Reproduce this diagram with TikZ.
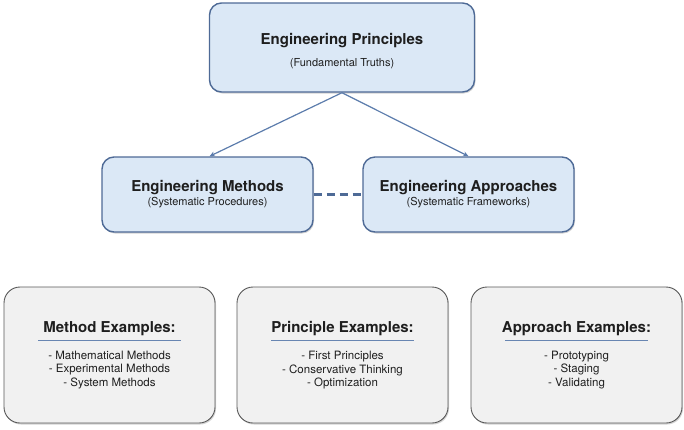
\documentclass[tikz,border=0pt]{standalone}
\usepackage{fontspec}
\setmainfont{TeX Gyre Heros}
\usetikzlibrary{arrows.meta,shadows}
\definecolor{boxblue}{RGB}{219,232,246}
\definecolor{edgeblue}{RGB}{78,106,150}
\definecolor{linkblue}{RGB}{92,124,172}
\definecolor{boxgray}{RGB}{241,241,241}
\definecolor{edgegray}{RGB}{88,88,88}
\definecolor{ruleblue}{RGB}{104,134,178}
\definecolor{txt}{RGB}{30,30,30}
\newcommand\ttlfont{\fontsize{15}{18}\selectfont\bfseries}
\newcommand\subfont{\fontsize{11}{13}\selectfont\mdseries}
\newcommand\itmfont{\fontsize{11.5}{13.5}\selectfont\mdseries}

\begin{document}
\begin{tikzpicture}[x=1pt,y=-1pt,
  bluebox/.style={draw=edgeblue,line width=1.4pt,fill=boxblue,rounded corners=12pt,
    align=center,text=txt,font=\subfont,minimum width=211pt,minimum height=75pt,
    drop shadow={shadow xshift=1pt,shadow yshift=-1.5pt,opacity=0.35}},
  graybox/.style={draw=edgegray,line width=0.9pt,fill=boxgray,rounded corners=16pt,
    align=center,text=txt,font=\itmfont,minimum width=211pt,minimum height=136pt,
    drop shadow={shadow xshift=1pt,shadow yshift=-1.5pt,opacity=0.35}},
  link/.style={draw=linkblue,line width=1.2pt,-{Stealth[length=5.5pt,width=5pt]}},
  dashlink/.style={draw=edgeblue,line width=2.4pt,dash pattern=on 8.5pt off 4.5pt}]
  \useasboundingbox (0,0) rectangle (684,429);
  \def\rulelen{143pt}
  \node[bluebox,minimum width=265pt,minimum height=89pt,text height=39.5pt] (prin) at (342,47.5)
    {\ttlfont Engineering Principles\\[8.5pt](Fundamental Truths)};
  \node[bluebox] (meth) at (207.5,194.5)
    {\ttlfont Engineering Methods\\[1pt](Systematic Procedures)};
  \node[bluebox] (appr) at (468.5,194.5)
    {\ttlfont Engineering Approaches\\[1pt](Systematic Frameworks)};
  \draw[link] (prin.south) -- ([xshift=2pt]meth.north);
  \draw[link] (prin.south) -- (appr.north);
  \draw[dashlink] (meth.east) -- (appr.west);
  \node[graybox] (mex) at (109.5,355)
    {\ttlfont Method Examples:\\[-4.2pt]\textcolor{ruleblue}{\rule{\rulelen}{1.8pt}}\\[4.6pt]
     - Mathematical Methods\\- Experimental Methods\\- System Methods};
  \node[graybox] (pex) at (342.5,355)
    {\ttlfont Principle Examples:\\[-4.2pt]\textcolor{ruleblue}{\rule{\rulelen}{1.8pt}}\\[4.6pt]
     - First Principles\\- Conservative Thinking\\- Optimization};
  \node[graybox] (aex) at (576.5,355)
    {\ttlfont Approach Examples:\\[-4.2pt]\textcolor{ruleblue}{\rule{\rulelen}{1.8pt}}\\[4.6pt]
     - Prototyping\\- Staging\\- Validating};
\end{tikzpicture}
\end{document}
